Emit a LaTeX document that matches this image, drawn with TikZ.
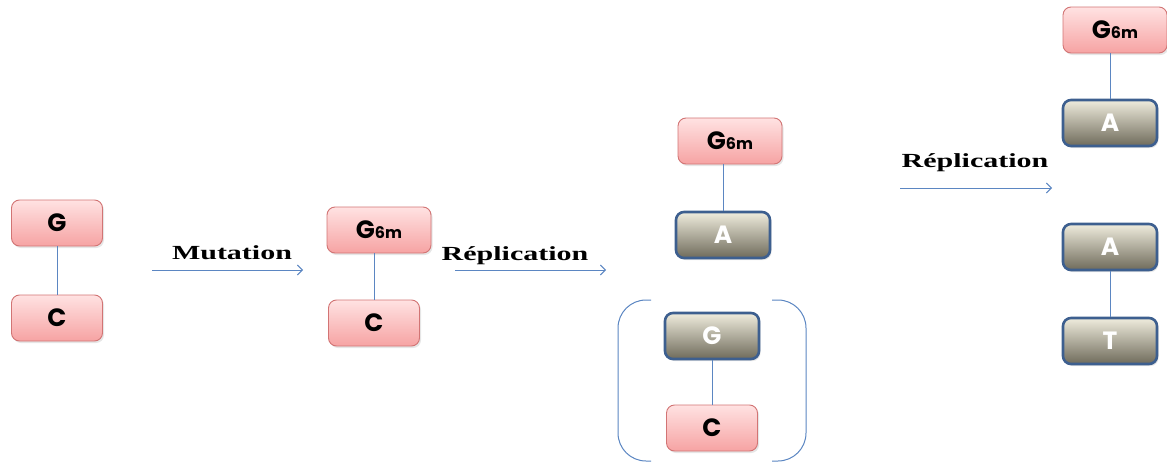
\documentclass[tikz,border=0pt]{standalone}
\usepackage{fontspec}
\usepackage{graphicx}
\newfontfamily\boxfont{Poppins}
\newfontfamily\labfont{Liberation Serif}
\usetikzlibrary{shadows,arrows.meta}
\definecolor{pinktop}{HTML}{FFE2E2}
\definecolor{pinkbot}{HTML}{F6A3A3}
\definecolor{pinkdraw}{HTML}{D27474}
\definecolor{graytop}{HTML}{EFECDD}
\definecolor{graybot}{HTML}{6F6B5B}
\definecolor{graydraw}{HTML}{3D5F8F}
\definecolor{linkblue}{HTML}{5B86C2}
\tikzset{
  base/.style={rectangle, rounded corners=8pt, minimum height=46pt, inner sep=0pt,
    drop shadow={opacity=0.2, shadow xshift=1.5pt, shadow yshift=-2pt}},
  pinkbox/.style={base, draw=pinkdraw, line width=0.9pt, top color=pinktop, bottom color=pinkbot,
    minimum width=91pt, font=\boxfont\bfseries\fontsize{25}{25}\selectfont, text=black},
  gbox/.style={pinkbox, minimum width=104pt},
  graybox/.style={base, draw=graydraw, line width=2.6pt, top color=graytop, bottom color=graybot,
    minimum width=94pt, font=\boxfont\bfseries\fontsize{25}{25}\selectfont, text=white},
  link/.style={draw=linkblue, line width=1pt},
  step arrow/.style={draw=linkblue, line width=0.9pt, -{Straight Barb[length=5pt,width=10pt]}},
  lab/.style={font=\labfont\bfseries\fontsize{20}{20}\selectfont, text=black, inner sep=0pt},
  bracket/.style={draw=linkblue, line width=1pt, rounded corners=28pt}
}
\newcommand{\gsix}{G{\fontsize{16}{16}\selectfont 6m}}
\begin{document}
\begin{tikzpicture}[x=1pt,y=-1pt]
\useasboundingbox (0,0) rectangle (1167,463);
% column 1
\node[pinkbox] (g1) at (57,223) {G};
\node[pinkbox] (c1) at (57,318) {C};
\draw[link] (g1) -- (c1);
% arrow 1
\coordinate (a1s) at (152,270);
\coordinate (a1e) at (303,270);
\draw[step arrow] (a1s) -- (a1e);
\node[lab] (m1) at (232,253) {\scalebox{1.5}[1]{Mutation}};
% column 2
\node[gbox] (g2) at (379,230) {\gsix};
\node[pinkbox] (c2) at (374,323) {C};
\draw[link] (g2.south -| c2) -- (c2);
% arrow 2
\coordinate (a2s) at (455,270);
\coordinate (a2e) at (606,270);
\draw[step arrow] (a2s) -- (a2e);
\node[lab] (r1) at (515,256) {\scalebox{1.5}[1]{Réplication}};
% column 3
\node[gbox] (g3) at (730,141) {\gsix};
\node[graybox] (a3) at (723,235) {A};
\draw[link] (g3.south -| a3) -- (a3);
\node[graybox] (g3b) at (712,336) {G};
\node[pinkbox] (c3) at (712,428) {C};
\draw[link] (g3b) -- (c3);
\coordinate (bl1) at (651,300);
\coordinate (bl2) at (618,300);
\coordinate (bl3) at (618,461);
\coordinate (bl4) at (651,461);
\draw[bracket] (bl1) -- (bl2) -- (bl3) -- (bl4);
\coordinate (br1) at (772,300);
\coordinate (br2) at (806,300);
\coordinate (br3) at (806,461);
\coordinate (br4) at (772,461);
\draw[bracket] (br1) -- (br2) -- (br3) -- (br4);
% arrow 3
\coordinate (a3s) at (900,188);
\coordinate (a3e) at (1052,188);
\draw[step arrow] (a3s) -- (a3e);
\node[lab] (r2) at (975,163) {\scalebox{1.5}[1]{Réplication}};
% column 4
\node[gbox] (g4) at (1115,30) {\gsix};
\node[graybox] (a4) at (1110,123) {A};
\draw[link] (g4.south -| a4) -- (a4);
\node[graybox] (a5) at (1110,247) {A};
\node[graybox] (t5) at (1110,341) {T};
\draw[link] (a5) -- (t5);
\end{tikzpicture}
\end{document}
